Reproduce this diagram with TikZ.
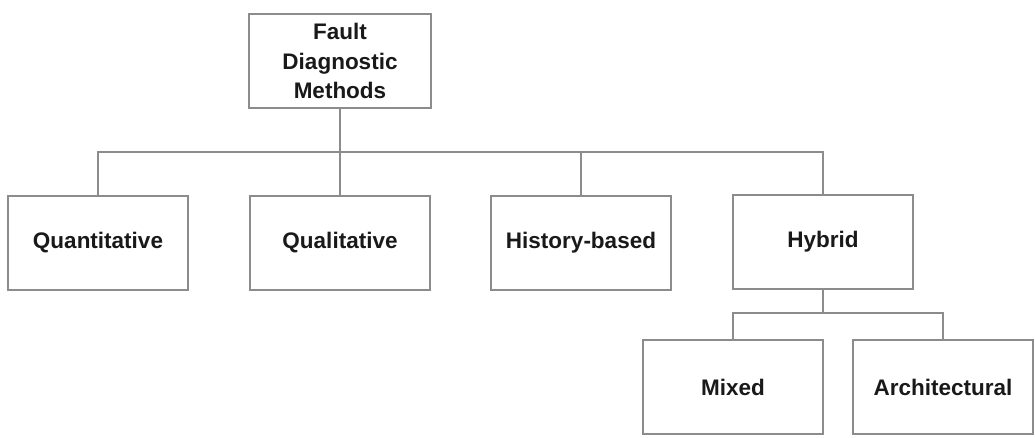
\documentclass[tikz,border=0pt]{standalone}
\usepackage{fontspec}
\setmainfont{Liberation Sans}
\begin{document}
\begin{tikzpicture}[x=1pt,y=-1pt,
  box/.style={draw=black!45,line width=1.4pt,fill=white,inner sep=0pt,
    font=\fontsize{22.5}{29.5}\selectfont\bfseries,text=black!90,align=center},
  conn/.style={draw=black!45,line width=1.4pt}]
\fill[white] (0,0) rectangle (1035,438);
\useasboundingbox (0,0) rectangle (1035,438);
\node[box,minimum width=182pt,minimum height=94pt] (root) at (340,61) {Fault\\Diagnostic\\Methods};
\node[box,minimum width=180pt,minimum height=94pt] (quan) at (98,243) {Quantitative};
\node[box,minimum width=180pt,minimum height=94pt] (qual) at (340,243) {Qualitative};
\node[box,minimum width=180pt,minimum height=94pt] (hist) at (581,243) {History-based};
\node[box,minimum width=180pt,minimum height=94pt] (hyb) at (823,242) {Hybrid};
\node[box,minimum width=180pt,minimum height=94pt] (mix) at (733,387) {Mixed};
\node[box,minimum width=180pt,minimum height=94pt] (arch) at (943,387) {Architectural};
\coordinate (j1) at (340,152);
\coordinate (j2) at (823,313);
\draw[conn] (root.south) -- (j1);
\draw[conn] (quan.north) |- (j1) -| (hyb.north);
\draw[conn] (j1) -- (qual.north);
\draw[conn] (hist.north) -- (hist.north |- j1);
\draw[conn] (hyb.south) -- (j2);
\draw[conn] (mix.north) |- (j2) -| (arch.north);
\end{tikzpicture}
\end{document}
